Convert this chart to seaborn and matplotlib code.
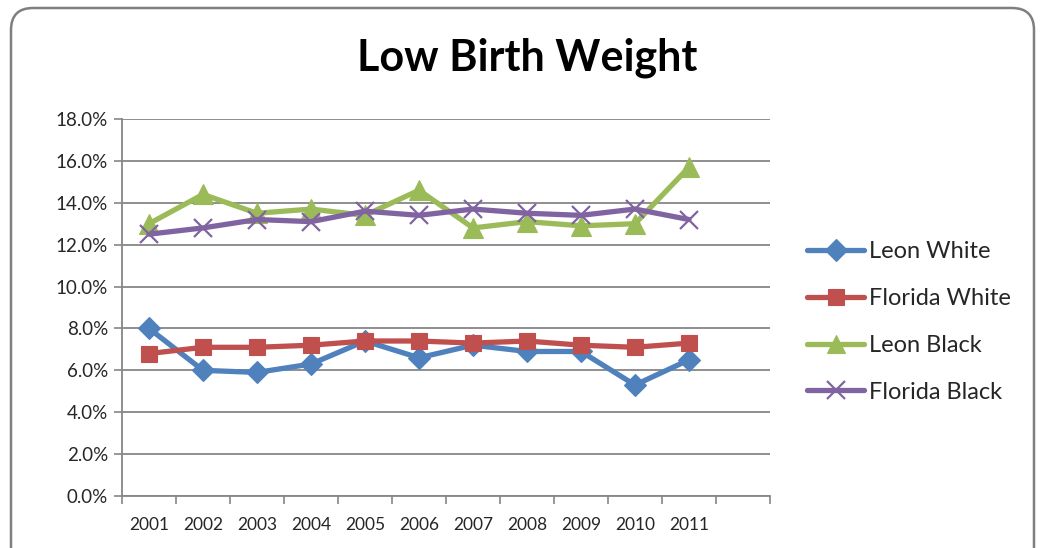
import matplotlib
matplotlib.use("Agg")
import matplotlib.pyplot as plt
from matplotlib.patches import FancyBboxPatch
from matplotlib.lines import Line2D
import seaborn as sns
import pandas as pd
import numpy as np

years = [2001, 2002, 2003, 2004, 2005, 2006, 2007, 2008, 2009, 2010, 2011]
leon_white = [8.0, 6.0, 5.9, 6.3, 7.4, 6.6, 7.2, 6.9, 6.9, 5.3, 6.5]
florida_white = [6.8, 7.1, 7.1, 7.2, 7.4, 7.4, 7.3, 7.4, 7.2, 7.1, 7.3]
leon_black = [13.0, 14.4, 13.5, 13.7, 13.4, 14.6, 12.8, 13.1, 12.9, 13.0, 15.7]
florida_black = [12.5, 12.8, 13.2, 13.1, 13.6, 13.4, 13.7, 13.5, 13.4, 13.7, 13.2]
series_names = ["Leon White", "Florida White", "Leon Black", "Florida Black"]
y_ticks = [0, 2, 4, 6, 8, 10, 12, 14, 16, 18]

colors = ["#4F81BD", "#C0504D", "#9BBB59", "#8064A2"]
markers = ["D", "s", "^", "x"]
msizes = [11.5, 12, 14, 13]

sns.set_theme(style="white")
plt.rcParams["font.family"] = ["Lato", "DejaVu Sans"]

df = pd.DataFrame({
    "Year": years * 4,
    "Value": leon_white + florida_white + leon_black + florida_black,
    "Series": sum([[n] * len(years) for n in series_names], []),
})

fig = plt.figure(figsize=(10.42, 5.48), dpi=100)
ax = fig.add_axes([122 / 1042, 1 - 496 / 548, (770 - 122) / 1042, (496 - 119) / 548])

for name, c, m, ms in zip(series_names, colors, markers, msizes):
    sub = df[df["Series"] == name]
    sns.lineplot(data=sub, x="Year", y="Value", ax=ax, color=c, lw=3.8,
                 marker=m, markersize=ms, markeredgecolor=c,
                 markeredgewidth=1.6 if m == "x" else 0.8, legend=False, zorder=3)

ax.set_xlim(years[0] - 0.5, years[-1] + 1.5)
ax.set_ylim(0, 18)
ax.set_yticks(y_ticks)
ax.set_yticklabels([f"{v:.1f}%" for v in y_ticks], fontsize=13.5)
ax.set_xticks(np.arange(years[0] - 0.5, years[-1] + 1.6, 1.0))
ax.set_xticklabels([])
ax.set_xticks(years, minor=True)
ax.set_xticklabels([str(y) for y in years], minor=True, fontsize=12.5)
ax.tick_params(axis="x", which="major", length=6, width=1.2, color="#868686", direction="out", bottom=True)
ax.tick_params(axis="x", which="minor", length=0, pad=15)
ax.tick_params(axis="y", length=6, width=1.2, color="#868686", direction="out", left=True, pad=4)
ax.set_xlabel("")
ax.set_ylabel("")
ax.yaxis.grid(True, color="#868686", lw=1.3)
ax.xaxis.grid(False)
for s in ["top", "right"]:
    ax.spines[s].set_visible(False)
for s in ["left", "bottom"]:
    ax.spines[s].set_color("#868686")
    ax.spines[s].set_linewidth(1.3)
ax.set_axisbelow(True)

fig.text(527 / 1042, 1 - 58 / 548, "Low Birth Weight", ha="center", va="center",
         fontsize=31, fontweight="bold", color="black")

handles = [Line2D([0], [0], color=c, lw=3.8, marker=m, markersize=ms * 0.95,
                  markeredgecolor=c, markeredgewidth=1.6 if m == "x" else 0.8)
           for c, m, ms in zip(colors, markers, msizes)]
fig.legend(handles, series_names, loc="upper left", bbox_to_anchor=(798 / 1042, 1 - 232 / 548),
           frameon=False, fontsize=17, handlelength=2.4, handletextpad=0.2, labelspacing=1.09,
           borderaxespad=0)

border = FancyBboxPatch((0.11, -0.5), 10.23, 5.9, boxstyle="round,pad=0,rounding_size=0.22",
                        transform=fig.dpi_scale_trans, fill=False, edgecolor="#7F7F7F", lw=1.8,
                        clip_on=False)
fig.patches.append(border)

fig.savefig("out.png", dpi=100)
